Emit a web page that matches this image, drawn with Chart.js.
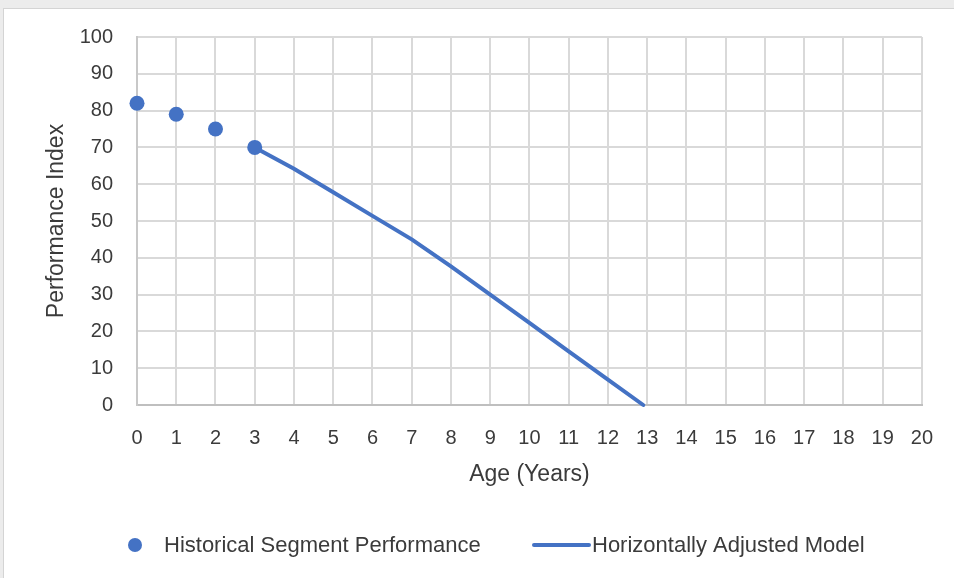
<!DOCTYPE html>
<html>
<head>
<meta charset="utf-8">
<script src="https://cdn.jsdelivr.net/npm/chart.js@4/dist/chart.umd.min.js"></script>
<style>
  html, body { margin: 0; padding: 0; background: #ececec; overflow: hidden; }
  #frame { position: absolute; left: 3px; top: 8px; width: 980px; height: 600px; background: #ffffff; border: 1px solid #d4d4d4; }
  #chart { position: absolute; left: 0; top: 0; }
</style>
</head>
<body>
<div id="frame"></div>
<canvas id="chart" width="954" height="578"></canvas>
<script>
// Historical segment readings (age in years -> performance index)
const historyAges = [0, 1, 2, 3];
const historyValues = [82, 79, 75, 70];

// Horizontally adjusted model curve
const modelAges = [3, 4, 5, 6, 7, 8, 9, 10, 11, 12, 12.9];
const modelValues = [70, 64.2, 57.8, 51.4, 45, 37.7, 30, 22.3, 14.6, 6.9, 0];

const seriesNames = ['Historical Segment Performance', 'Horizontally Adjusted Model'];
const xTitle = 'Age (Years)';
const yTitle = 'Performance Index';

const BLUE = '#4472c4';
const TEXT = '#3b3b3b';
const FONT = "'Liberation Sans', Arial, sans-serif";

const toPoints = (xs, ys) => xs.map((x, i) => ({ x: x, y: ys[i] }));

// Legend drawn below the plot, one entry per dataset
const bottomLegend = {
  id: 'bottomLegend',
  afterDraw(chart) {
    const ctx = chart.ctx;
    const ds = chart.data.datasets;
    const y = 545;
    ctx.save();
    ctx.font = '22px ' + FONT;
    ctx.textBaseline = 'middle';
    ctx.textAlign = 'left';

    // scatter entry
    ctx.beginPath();
    ctx.fillStyle = ds[0].backgroundColor;
    ctx.arc(135, y, 7, 0, Math.PI * 2);
    ctx.fill();
    ctx.fillStyle = TEXT;
    ctx.fillText(ds[0].label, 164, y + 1);

    // line entry
    ctx.beginPath();
    ctx.strokeStyle = ds[1].borderColor;
    ctx.lineWidth = ds[1].borderWidth;
    ctx.lineCap = 'round';
    ctx.moveTo(534, y);
    ctx.lineTo(589, y);
    ctx.stroke();
    ctx.fillText(ds[1].label, 592, y + 1);
    ctx.restore();
  }
};

new Chart(document.getElementById('chart'), {
  type: 'scatter',
  data: {
    datasets: [
      {
        label: seriesNames[0],
        data: toPoints(historyAges, historyValues),
        backgroundColor: BLUE,
        borderColor: BLUE,
        pointRadius: 7.5,
        pointHoverRadius: 7.5,
        borderWidth: 0,
        clip: false
      },
      {
        label: seriesNames[1],
        data: toPoints(modelAges, modelValues),
        showLine: true,
        borderColor: BLUE,
        backgroundColor: BLUE,
        borderWidth: 4,
        pointRadius: 0,
        tension: 0,
        borderCapStyle: 'round',
        clip: false
      }
    ]
  },
  options: {
    responsive: false,
    devicePixelRatio: 1,
    animation: false,
    layout: { padding: { left: 0, right: 31, top: 37, bottom: 73 } },
    plugins: {
      legend: { display: false },
      tooltip: { enabled: false }
    },
    scales: {
      x: {
        type: 'linear',
        min: 0,
        max: 20,
        afterFit(scale) { scale.height = 100; },
        ticks: { stepSize: 1, padding: 21, color: TEXT, font: { family: FONT, size: 20 } },
        grid: { color: '#d9d9d9', lineWidth: 2, drawTicks: false },
        border: { color: '#bfbfbf', width: 2 },
        title: { display: true, text: xTitle, color: TEXT, font: { family: FONT, size: 23 }, padding: { top: 0, bottom: 17 } }
      },
      y: {
        min: 0,
        max: 100,
        afterFit(scale) { scale.width = 137; },
        ticks: { stepSize: 10, padding: 24, color: TEXT, font: { family: FONT, size: 20 } },
        grid: { color: '#d9d9d9', lineWidth: 2, drawTicks: false },
        border: { color: '#c8c8c8', width: 2 },
        title: { display: true, text: yTitle, color: TEXT, font: { family: FONT, size: 23 }, padding: { top: 43, bottom: 0 } }
      }
    }
  },
  plugins: [bottomLegend]
});
</script>
</body>
</html>
